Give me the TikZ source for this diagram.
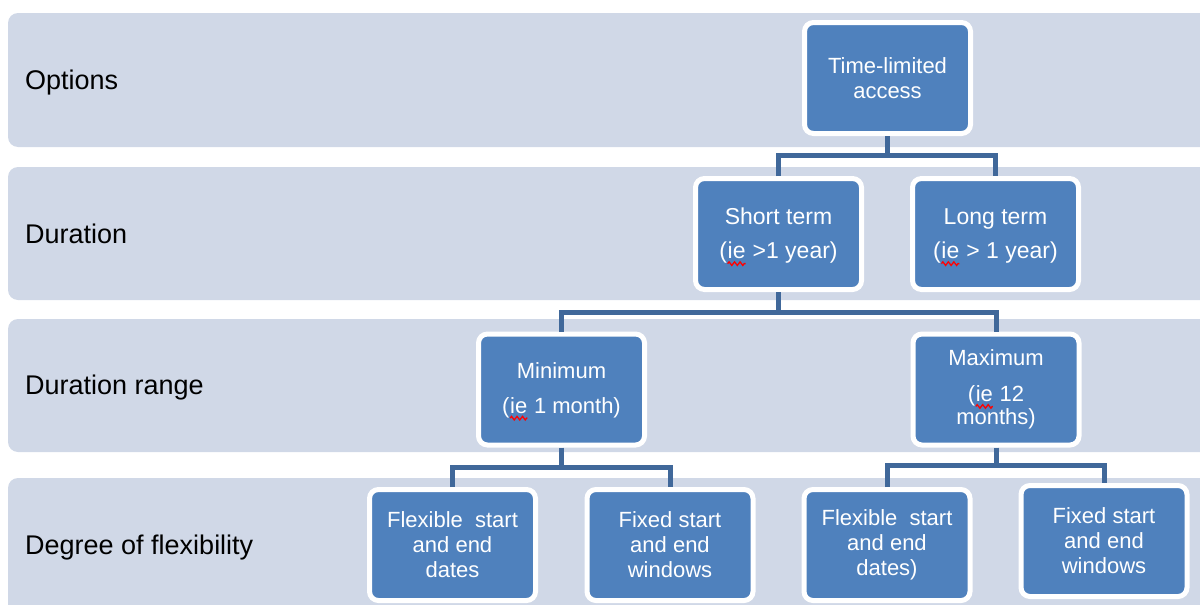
\documentclass[tikz,border=0pt]{standalone}
\usepackage{fontspec}
\setmainfont{Liberation Sans}
\usetikzlibrary{decorations.pathmorphing}
\definecolor{bandfill}{RGB}{208,216,231}
\definecolor{nodeblue}{RGB}{79,129,189}
\definecolor{linkblue}{RGB}{64,104,154}
\newcommand\spellmark[1]{\tikz[baseline=(sw.base),sharp corners,line width=1pt]{\node[inner sep=0pt,outer sep=0pt,minimum width=0pt,minimum height=0pt,draw=none,fill=none] (sw) {#1};\draw[red,sharp corners,line width=1.3pt,decorate,decoration={zigzag,segment length=5.5pt,amplitude=1.8pt}] ([yshift=-4.5pt]sw.south west) -- ([yshift=-4.5pt]sw.south east);}}
\begin{document}
\begin{tikzpicture}[x=1pt,y=-1pt,
 bandbox/.style={fill=bandfill, rounded corners=10pt},
 lab/.style={anchor=base west, font=\fontsize{27}{31}\selectfont, text=black, inner sep=0pt},
 box/.style={draw=white, fill=nodeblue, line width=5pt, rounded corners=9pt, minimum width=166pt, minimum height=111pt, text=white, align=center, font=\fontsize{22}{25}\selectfont, inner sep=2pt},
 bigbox/.style={box, font=\fontsize{23}{25}\selectfont},
 link/.style={draw=linkblue, line width=5pt}]
\useasboundingbox (0,0) rectangle (1200,605);
\begin{scope}
\clip (0,0) rectangle (1200,605);
\fill[bandbox] (8,13) rectangle (1220,147);
\fill[bandbox] (8,167) rectangle (1220,300);
\fill[bandbox] (8,319) rectangle (1220,452);
\fill[bandbox] (8,478) rectangle (1220,630);
\end{scope}
\node[lab] (l1) at (25,89) {Options};
\node[lab] (l2) at (25,243) {Duration};
\node[lab] (l3) at (25,394) {Duration range};
\node[lab] (l4) at (25,554) {Degree of flexibility};
\node[box] (top) at (887.5,78) {Time-limited\\access};
\node[bigbox] (short) at (778.5,234) {\rule{0pt}{23pt}Short term\\[9pt](\spellmark{ie} >1 year)};
\node[bigbox] (long) at (995.5,234) {\rule{0pt}{23pt}Long term\\[9pt](\spellmark{ie} > 1 year)};
\node[box] (min) at (561.5,389.5) {\rule{0pt}{20pt}Minimum\\[10pt](\spellmark{ie} 1 month)};
\node[box] (max) at (996,389.5) {Maximum\\[11pt](\spellmark{ie} 12\\[-2pt]months)};
\node[box] (flex1) at (452.5,545) {Flexible\ \ start\\and end\\dates};
\node[box] (fix1) at (670,545) {Fixed start\\and end\\windows};
\node[box] (flex2) at (887,545) {Flexible\ \ start\\and end\\dates)};
\node[box] (fix2) at (1104,541) {Fixed start\\and end\\windows};
\draw[link] (top.south) -- ++(0,19) coordinate (j1);
\draw[link] (short.north) |- (j1) -| (long.north);
\draw[link] (short.south) -- ++(0,20) coordinate (j2);
\draw[link] (min.north) |- (j2) -| (max.north);
\draw[link] (min.south) -- ++(0,20) coordinate (j3);
\draw[link] (flex1.north) |- (j3) -| (fix1.north);
\draw[link] (max.south) -- ++(0,18) coordinate (j4);
\draw[link] (flex2.north) |- (j4) -| (fix2.north);
\end{tikzpicture}
\end{document}
